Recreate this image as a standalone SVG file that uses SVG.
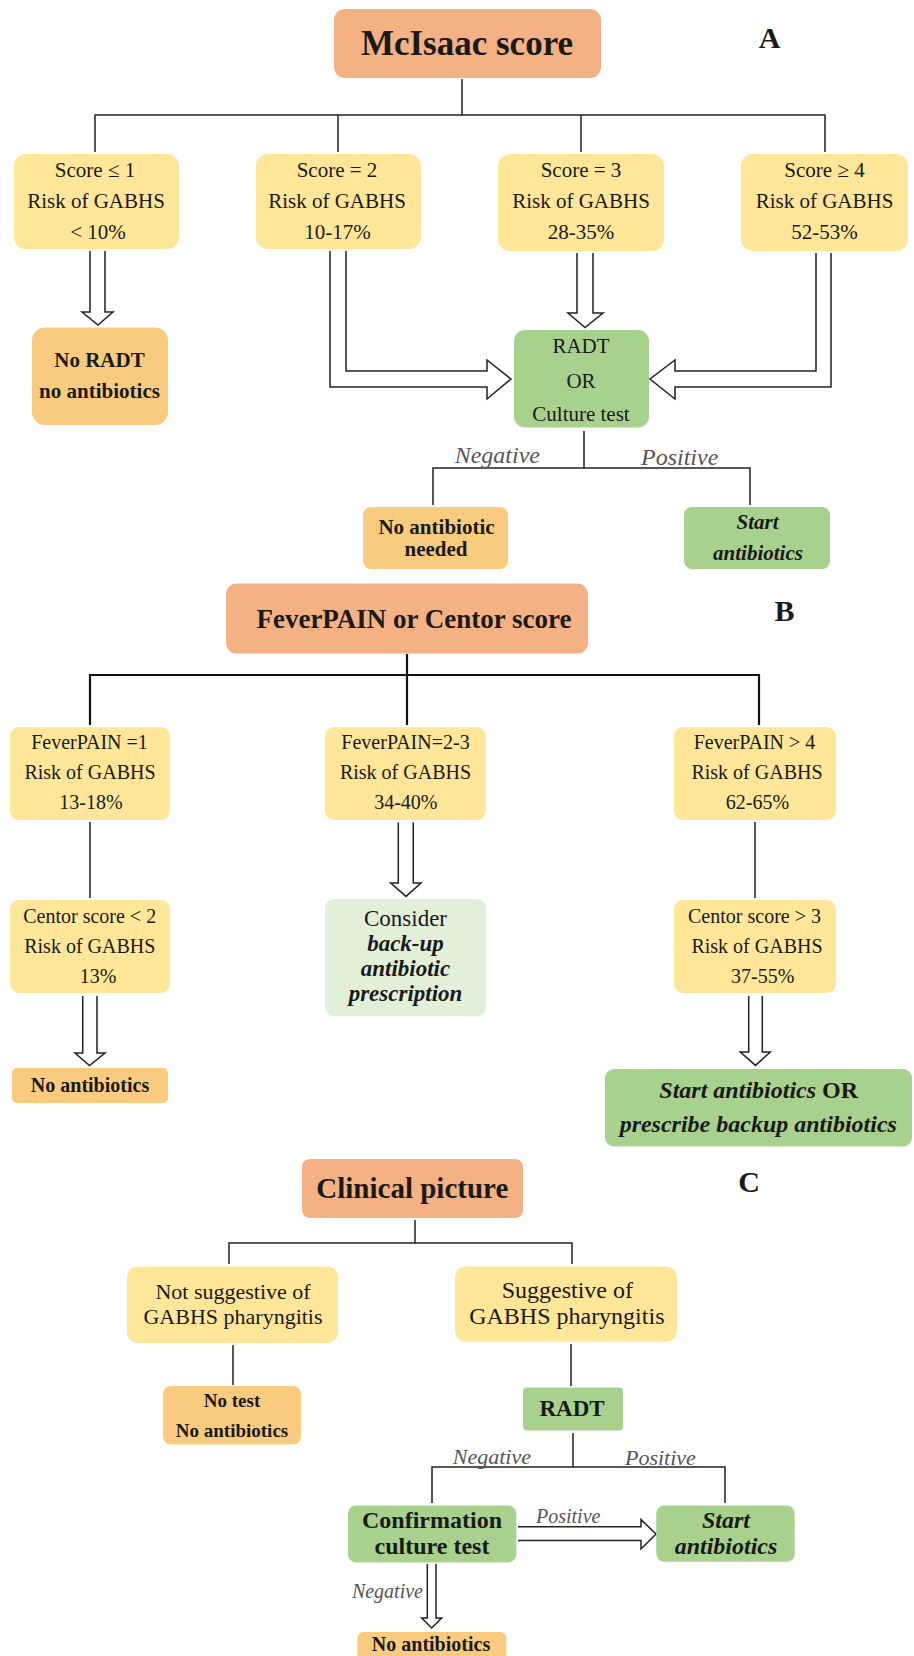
<svg xmlns="http://www.w3.org/2000/svg" width="914" height="1656" viewBox="0 0 914 1656">
<style>
text{font-family:"Liberation Serif","Times New Roman",serif;fill:#1a1a1a;text-anchor:middle}
.hdr{fill:#F4B183}
.yel{fill:#FFE699}
.org{fill:#F8CB7E}
.grn{fill:#A9D18E}
.lgr{fill:#E2F0D9}
.b{font-weight:bold}
.bi{font-weight:bold;font-style:italic}
.lab{font-style:italic;fill:#555}
.ln{fill:none;stroke:#222;stroke-width:1.5}
.lnb{fill:none;stroke:#111;stroke-width:2.2}
.ha{fill:#fff;stroke:#222;stroke-width:1.5;stroke-linejoin:miter}
</style>

<g id="connectors">
  <!-- A -->
  <path class="ln" d="M462,79 V115 M95,152 V115 H825 V152 M338,115 V152 M581,115 V152"/>
  <path class="ha" d="M90,251 V312 H82 L98,325 L113,312 H105 V251"/>
  <path class="ha" d="M346,251 V371 H487 V360 L511,379 L487,399 V387 H330 V251"/>
  <path class="ha" d="M577,253 V313 H568 L585,327.5 L603,313 H593 V253"/>
  <path class="ha" d="M816,253 V371 H675 V360 L650,379 L675,399 V387 H831 V253"/>
  <path class="ln" d="M584,431 V468 M433,505 V468 H750 V505"/>
  <!-- B -->
  <path class="lnb" d="M407,654 V725 M90,725 V675 H759 V725"/>
  <path class="ln" d="M90,822 V898 M755,822 V898"/>
  <path class="ha" d="M82.7,996 V1053 H75 L89.5,1065.5 L105,1053 H97 V996"/>
  <path class="ha" d="M398.3,822.5 V883 H390.7 L406,896.4 L421,883 H413.3 V822.5"/>
  <path class="ha" d="M748.7,996 V1052 H740.3 L755.5,1065.4 L770.3,1052 H762.3 V996"/>
  <!-- C -->
  <path class="ln" d="M415,1220 V1243 M229,1264 V1243 H572 V1264"/>
  <path class="ln" d="M233,1345 V1385 M571,1344 V1386"/>
  <path class="ln" d="M573,1433 V1467 M432,1503 V1467 H725 V1503"/>
  <path class="ha" d="M518,1526.8 H641 V1519.6 L656,1534 L641,1549 V1540.4 H518"/>
  <path class="ha" d="M427.3,1564 V1618 H421.7 L431.7,1628 L441.7,1618 H436 V1564"/>
  <!-- labels -->
  <text class="lab" x="540" y="463" font-size="24" style="text-anchor:end">Negative</text>
  <text class="lab" x="641" y="465" font-size="24" style="text-anchor:start">Positive</text>
  <text class="lab" x="531" y="1464" font-size="22" style="text-anchor:end">Negative</text>
  <text class="lab" x="625" y="1465" font-size="22" style="text-anchor:start">Positive</text>
  <text class="lab" x="536" y="1523" font-size="20" style="text-anchor:start">Positive</text>
  <text class="lab" x="423" y="1598" font-size="20" style="text-anchor:end">Negative</text>
</g>

<!-- Section A -->
<g id="labelA"><text class="b" x="769.5" y="47.5" font-size="30">A</text></g>
<g id="mcisaac">
  <rect class="hdr" x="334" y="9" width="267" height="69" rx="11"/>
  <text class="b" x="467" y="55" font-size="35">McIsaac score</text>
</g>
<g id="score1">
  <rect class="yel" x="14" y="154" width="165" height="95" rx="12"/>
  <text x="95" y="177" font-size="21">Score ≤ 1</text>
  <text x="96" y="208" font-size="21">Risk of GABHS</text>
  <text x="98" y="239" font-size="21">&lt; 10%</text>
</g>
<g id="score2">
  <rect class="yel" x="256" y="154" width="165" height="95" rx="12"/>
  <text x="337" y="177" font-size="21">Score = 2</text>
  <text x="337" y="208" font-size="21">Risk of GABHS</text>
  <text x="337.5" y="239" font-size="21">10-17%</text>
</g>
<g id="score3">
  <rect class="yel" x="498" y="154" width="166" height="97" rx="12"/>
  <text x="581" y="177" font-size="21">Score = 3</text>
  <text x="581" y="208" font-size="21">Risk of GABHS</text>
  <text x="581" y="239" font-size="21">28-35%</text>
</g>
<g id="score4">
  <rect class="yel" x="741" y="154" width="167" height="97" rx="12"/>
  <text x="824.5" y="177" font-size="21">Score ≥ 4</text>
  <text x="824.5" y="208" font-size="21">Risk of GABHS</text>
  <text x="824.5" y="239" font-size="21">52-53%</text>
</g>
<g id="noradt">
  <rect class="org" x="32" y="327.5" width="136" height="97.5" rx="13"/>
  <text class="b" x="99.5" y="367" font-size="21">No RADT</text>
  <text class="b" x="99.5" y="398" font-size="21">no antibiotics</text>
</g>
<g id="radtA">
  <rect class="grn" x="514" y="330" width="135" height="97.5" rx="11"/>
  <text x="581" y="353" font-size="21">RADT</text>
  <text x="581" y="387.5" font-size="21">OR</text>
  <text x="581" y="421" font-size="21">Culture test</text>
</g>
<g id="noabneeded">
  <rect class="org" x="363" y="507" width="145" height="62" rx="8"/>
  <text class="b" x="436.5" y="534" font-size="21">No antibiotic</text>
  <text class="b" x="436" y="556" font-size="21">needed</text>
</g>
<g id="startA">
  <rect class="grn" x="684" y="507" width="146" height="62" rx="8"/>
  <text class="bi" x="757.5" y="529" font-size="21">Start</text>
  <text class="bi" x="758" y="560" font-size="21">antibiotics</text>
</g>

<!-- Section B -->
<g id="labelB"><text class="b" x="784.5" y="620.7" font-size="30">B</text></g>
<g id="feverpain">
  <rect class="hdr" x="226" y="583.6" width="362" height="70" rx="11"/>
  <text class="b" x="414" y="628" font-size="27">FeverPAIN or Centor score</text>
</g>
<g id="fp1">
  <rect class="yel" x="10" y="727" width="160" height="93" rx="9"/>
  <text x="89.5" y="748.6" font-size="20">FeverPAIN =1</text>
  <text x="90" y="779" font-size="20">Risk of GABHS</text>
  <text x="91" y="809" font-size="20">13-18%</text>
</g>
<g id="fp23">
  <rect class="yel" x="325" y="727" width="161" height="93" rx="9"/>
  <text x="405.5" y="748.6" font-size="20">FeverPAIN=2-3</text>
  <text x="405.5" y="779" font-size="20">Risk of GABHS</text>
  <text x="405.8" y="809" font-size="20">34-40%</text>
</g>
<g id="fp4">
  <rect class="yel" x="674" y="727" width="162" height="93" rx="9"/>
  <text x="754.5" y="748.6" font-size="20">FeverPAIN &gt; 4</text>
  <text x="757" y="779" font-size="20">Risk of GABHS</text>
  <text x="757.5" y="809" font-size="20">62-65%</text>
</g>
<g id="centor2">
  <rect class="yel" x="10" y="900" width="160" height="93" rx="9"/>
  <text x="89.7" y="922.5" font-size="20">Centor score &lt; 2</text>
  <text x="89.8" y="953" font-size="20">Risk of GABHS</text>
  <text x="98" y="983" font-size="20">13%</text>
</g>
<g id="consider">
  <rect class="lgr" x="325" y="899" width="161" height="117.4" rx="9"/>
  <text x="405.5" y="926" font-size="23">Consider</text>
  <text class="bi" x="405.5" y="951" font-size="23">back-up</text>
  <text class="bi" x="405.5" y="976" font-size="23">antibiotic</text>
  <text class="bi" x="405.5" y="1001" font-size="23">prescription</text>
</g>
<g id="centor3">
  <rect class="yel" x="674" y="900" width="162" height="93" rx="9"/>
  <text x="754.5" y="922.5" font-size="20">Centor score &gt; 3</text>
  <text x="757" y="953" font-size="20">Risk of GABHS</text>
  <text x="762.7" y="983" font-size="20">37-55%</text>
</g>
<g id="noabB">
  <rect class="org" x="12" y="1068" width="156" height="35" rx="5"/>
  <text class="b" x="90" y="1092" font-size="20">No antibiotics</text>
</g>
<g id="startB">
  <rect class="grn" x="605" y="1069" width="307" height="77.4" rx="9"/>
  <text x="758.7" y="1097.5" font-size="24"><tspan class="bi">Start antibiotics</tspan><tspan class="b"> OR</tspan></text>
  <text class="bi" x="758.3" y="1132" font-size="24">prescribe backup antibiotics</text>
</g>

<!-- Section C -->
<g id="labelC"><text class="b" x="749" y="1192" font-size="30">C</text></g>
<g id="clinical">
  <rect class="hdr" x="302" y="1159" width="221" height="59" rx="8"/>
  <text class="b" x="412.3" y="1197.5" font-size="29">Clinical picture</text>
</g>
<g id="notsugg">
  <rect class="yel" x="127" y="1266.4" width="211" height="76.5" rx="11"/>
  <text x="233" y="1299.3" font-size="22">Not suggestive of</text>
  <text x="233" y="1323.6" font-size="22">GABHS pharyngitis</text>
</g>
<g id="sugg">
  <rect class="yel" x="455" y="1266.4" width="222" height="75.4" rx="11"/>
  <text x="567.3" y="1298" font-size="24">Suggestive of</text>
  <text x="566.8" y="1324.3" font-size="24">GABHS pharyngitis</text>
</g>
<g id="notest">
  <rect class="org" x="163" y="1386" width="138" height="58.6" rx="8"/>
  <text class="b" x="232" y="1407" font-size="19">No test</text>
  <text class="b" x="232" y="1437" font-size="19">No antibiotics</text>
</g>
<g id="radtC">
  <rect class="grn" x="523" y="1387.5" width="100" height="43" rx="4"/>
  <text class="b" x="572" y="1416" font-size="23">RADT</text>
</g>
<g id="confirm">
  <rect class="grn" x="348" y="1505.4" width="168.3" height="57" rx="8"/>
  <text class="b" x="432" y="1528" font-size="24">Confirmation</text>
  <text class="b" x="432" y="1554" font-size="24">culture test</text>
</g>
<g id="startC">
  <rect class="grn" x="656.3" y="1505.4" width="138.4" height="56.4" rx="8"/>
  <text class="bi" x="726" y="1528" font-size="24">Start</text>
  <text class="bi" x="726" y="1554" font-size="24">antibiotics</text>
</g>
<g id="noabC">
  <rect class="org" x="357.3" y="1632" width="149" height="30" rx="6"/>
  <text class="b" x="431" y="1651" font-size="20">No antibiotics</text>
</g>
</svg>
